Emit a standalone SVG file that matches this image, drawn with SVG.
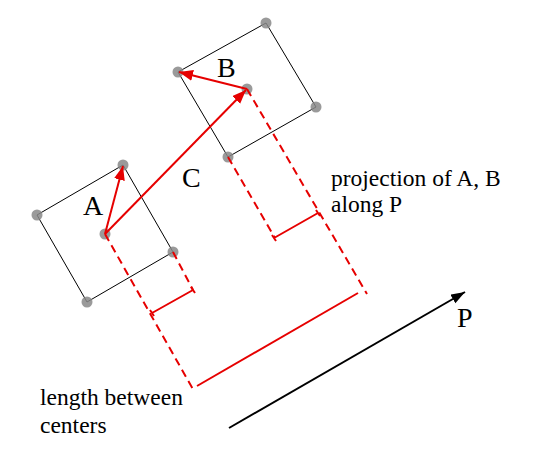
<svg xmlns="http://www.w3.org/2000/svg" width="550" height="450" viewBox="0 0 550 450">
<defs>
<marker id="ar" markerUnits="userSpaceOnUse" markerWidth="16" markerHeight="12" refX="14" refY="5.5" orient="auto"><path d="M0,0 L14,5.5 L0,11 Z" fill="#e60000"/></marker>
<marker id="ak" markerUnits="userSpaceOnUse" markerWidth="16" markerHeight="12" refX="14" refY="5" orient="auto"><path d="M0,0 L14,5 L0,10 Z" fill="#000"/></marker>
</defs>
<style>
.box{fill:none;stroke:#000;stroke-width:1}
.dot{fill:#888;fill-opacity:0.85}
.red{stroke:#e60000;stroke-width:2;fill:none}
.dash{stroke:#e60000;stroke-width:2;fill:none;stroke-dasharray:8,5}
.lbl{font-family:"Liberation Serif","Times New Roman",serif;fill:#000}
.big{font-size:28px}
.small{font-size:23.5px}
</style>
<rect width="550" height="450" fill="#fff"/>
<g id="boxA">
<polygon class="box" points="123,165 173,252 87,302 37,215"/>
<circle class="dot" cx="123" cy="165" r="5.5"/>
<circle class="dot" cx="173" cy="252" r="5.5"/>
<circle class="dot" cx="87" cy="302" r="5.5"/>
<circle class="dot" cx="37" cy="215" r="5.5"/>
<circle class="dot" cx="105" cy="234" r="5.5"/>
<text class="lbl big" x="83" y="215">A</text>
</g>
<g id="boxB">
<polygon class="box" points="266,23 316,107 228,157 178,72"/>
<circle class="dot" cx="266" cy="23" r="5.5"/>
<circle class="dot" cx="316" cy="107" r="5.5"/>
<circle class="dot" cx="228" cy="157" r="5.5"/>
<circle class="dot" cx="178" cy="72" r="5.5"/>
<circle class="dot" cx="247" cy="89" r="5.5"/>
<text class="lbl big" x="217" y="77">B</text>
</g>
<g id="connectors">
<line class="dash" x1="105" y1="234" x2="194" y2="391"/>
<line class="dash" x1="173" y1="252" x2="193" y2="290"/>
<line class="dash" x1="228" y1="157" x2="275" y2="238"/>
<line class="dash" x1="247" y1="89" x2="367" y2="294"/>
<path class="red" d="M152,313 L193,290 M150,310 L154,316 M191,287 L195,293"/>
<path class="red" d="M274,238 L318,213 M272,235 L276,241 M316,210 L320,216"/>
<line class="red" x1="197" y1="386" x2="358" y2="293"/>
<line class="red" x1="105" y1="234" x2="123" y2="166" marker-end="url(#ar)"/>
<line class="red" x1="105" y1="234" x2="246" y2="90" marker-end="url(#ar)"/>
<line class="red" x1="247" y1="89" x2="179" y2="72" marker-end="url(#ar)"/>
<line x1="229" y1="428" x2="465" y2="292" stroke="#000" stroke-width="2" marker-end="url(#ak)"/>
</g>
<g id="labels">
<text class="lbl big" x="182" y="187">C</text>
<text class="lbl big" x="457" y="327">P</text>
<text class="lbl small" x="331" y="186">projection of A, B</text>
<text class="lbl small" x="331" y="212">along P</text>
<text class="lbl small" x="40" y="405">length between</text>
<text class="lbl small" x="40" y="433">centers</text>
</g>
</svg>
